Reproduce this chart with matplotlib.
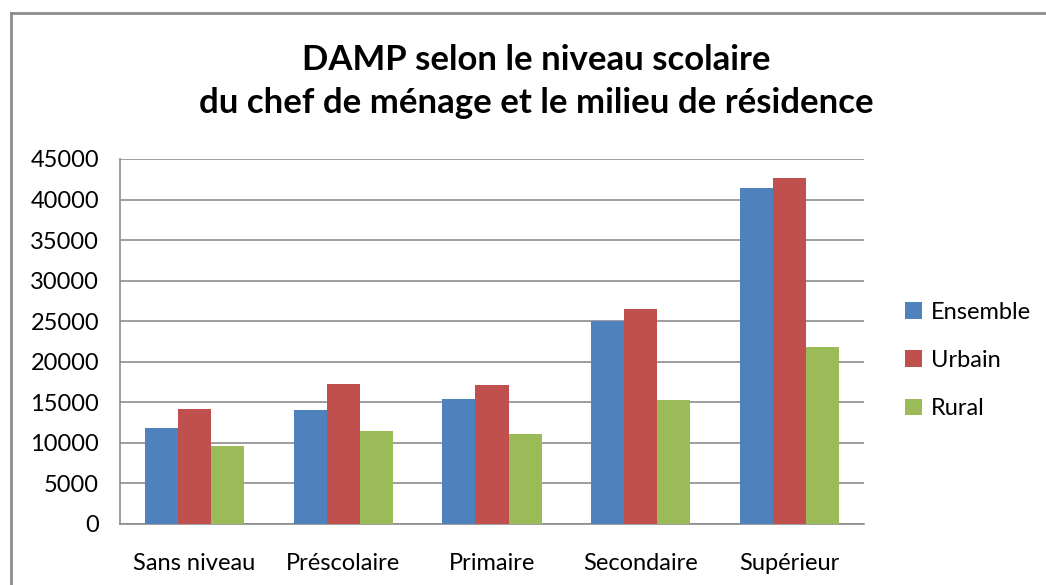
import numpy as np
import matplotlib.pyplot as plt
from matplotlib.lines import Line2D

plt.rcParams['font.family'] = ['Lato', 'DejaVu Sans']

# ===== données =====
categories = ['Sans niveau', 'Préscolaire', 'Primaire', 'Secondaire', 'Supérieur']
ensemble = [11800, 14000, 15350, 25000, 41400]
urbain = [14200, 17300, 17150, 26500, 42650]
rural = [9600, 11500, 11100, 15300, 21800]
series_names = ['Ensemble', 'Urbain', 'Rural']
colors = ['#4F81BD', '#C0504D', '#9BBB59']
yticks = np.arange(0, 45001, 5000)

fig = plt.figure(figsize=(10.46, 5.85), dpi=100)
ax = fig.add_axes([120 / 1046, 61 / 585, 744 / 1046, 365 / 585])

x = np.arange(len(categories))
w = 0.222
for i, (vals, name, c) in enumerate(zip([ensemble, urbain, rural], series_names, colors)):
    ax.bar(x + (i - 1) * w, vals, width=w, color=c, label=name, zorder=3,
           edgecolor='none')

ax.set_xlim(-0.5, len(categories) - 0.5)
ax.set_ylim(0, 45000)
ax.set_yticks(yticks)
ax.set_yticklabels([str(v) for v in yticks])
ax.set_xticks(x)
ax.set_xticklabels(categories)
ax.tick_params(axis='both', length=0, labelsize=17, colors='black')
ax.tick_params(axis='y', pad=15)
ax.tick_params(axis='x', pad=21)
ax.yaxis.grid(True, color='#8c8c8c', linewidth=1.2, zorder=0)
ax.set_axisbelow(True)
for s in ['left', 'bottom']:
    ax.spines[s].set_color('#8c8c8c')
    ax.spines[s].set_linewidth(1.2)
ax.spines['top'].set_visible(False)
ax.spines['right'].set_visible(False)

# titre
fig.text(0.513, 1 - 60 / 585, 'DAMP selon le niveau scolaire', ha='center', va='center',
         fontsize=25, fontweight='bold')
fig.text(0.513, 1 - 103 / 585, 'du chef de ménage et le milieu de résidence',
         ha='center', va='center', fontsize=25, fontweight='bold')

# légende
ax.legend(loc='center left', bbox_to_anchor=(1.027, 0.448), frameon=False,
          fontsize=17, handlelength=0.7, handleheight=0.7, handletextpad=0.4,
          labelspacing=1.15)

# cadre extérieur
fig.add_artist(Line2D([10.5 / 1046, 10.5 / 1046], [0, 1 - 13 / 585],
                      transform=fig.transFigure, color='#8c8c8c', lw=2))
fig.add_artist(Line2D([10.5 / 1046, 1], [1 - 13 / 585, 1 - 13 / 585],
                      transform=fig.transFigure, color='#8c8c8c', lw=2))

fig.savefig('out.png', dpi=100, facecolor='white')
